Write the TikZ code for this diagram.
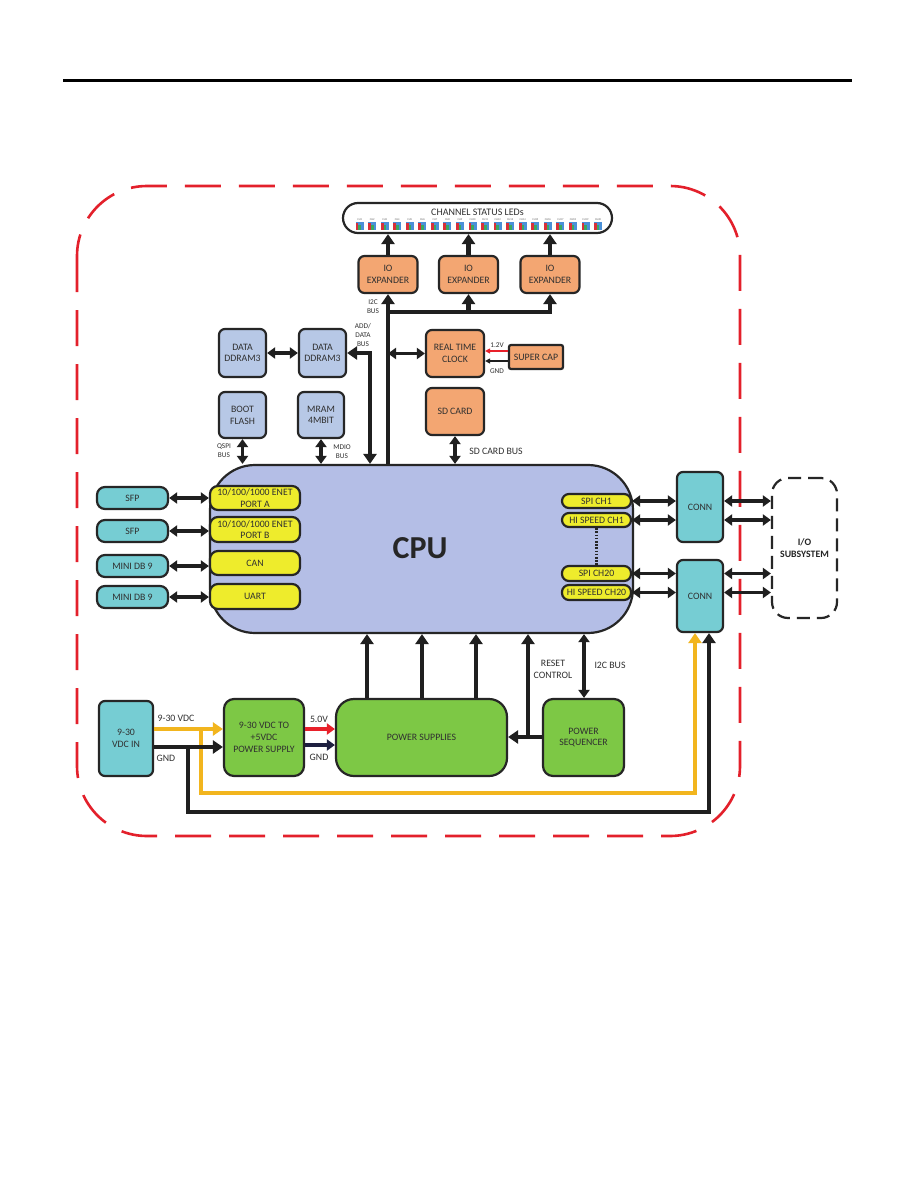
\documentclass[tikz,border=0pt]{standalone}
\usepackage{fontspec}
\setmainfont{Carlito}
\usetikzlibrary{arrows.meta}
\definecolor{cyanc}{HTML}{76CDD3}
\definecolor{orangec}{HTML}{F3A672}
\definecolor{ddrc}{HTML}{B7C8E6}
\definecolor{cpuc}{HTML}{B4BEE6}
\definecolor{yelc}{HTML}{EEEC2C}
\definecolor{greenc}{HTML}{7DC845}
\definecolor{bordred}{HTML}{E3202B}
\definecolor{wirey}{HTML}{F2B51E}
\definecolor{txt}{HTML}{303030}
\definecolor{navy}{HTML}{1E2040}
\definecolor{volt}{HTML}{E8202A}
\definecolor{ledr}{HTML}{D8303A}
\definecolor{ledg}{HTML}{3AA860}
\definecolor{ledb}{HTML}{4A90D8}
\begin{document}
\begin{tikzpicture}[x=1pt,y=-1pt,
 BT/.tip={Triangle[width=13pt,length=10pt]},
 MT/.tip={Triangle[width=11pt,length=8pt]},
 ST/.tip={Triangle[width=5pt,length=5pt]},
 box/.style={draw=black!85,line width=2.2pt,rounded corners=6pt,inner sep=0pt,align=center,text=txt,font=\fontsize{9.8}{11.7}\selectfont},
 cbox/.style={box,fill=cyanc},
 obox/.style={box,fill=orangec},
 dbox/.style={box,fill=ddrc},
 ybox/.style={box,fill=yelc},
 gbox/.style={box,fill=greenc},
 lbl/.style={inner sep=0pt,align=center,text=txt,font=\fontsize{7.3}{9.3}\selectfont},
 mlbl/.style={inner sep=0pt,align=center,text=txt,font=\fontsize{9.8}{11.7}\selectfont},
 wire/.style={line width=4.5pt,draw=black!88},
 dwire/.style={line width=3.8pt,draw=black!88},
 ywire/.style={line width=4.5pt,draw=wirey},
]
\useasboundingbox[fill=white] (0,0) rectangle (918,1188);

% header rule
\draw[line width=3pt] (63,81) -- (852,81);

% red dashed border
\draw[draw=bordred,line width=2.6pt,dash pattern=on 36pt off 18pt,rounded corners=70pt] (77,186) rectangle (740,836);

% LED bar
\node[draw=black!85,line width=2.2pt,fill=white,rounded corners=15pt,minimum width=269pt,minimum height=30pt,inner sep=0pt] (leds) at (477.5,218) {};
\node[text=txt,font=\fontsize{10}{10}\selectfont,inner sep=0pt] (ledtitle) at (477.5,212.5) {CHANNEL STATUS LEDs};
\foreach \i in {1,...,20}{
  \pgfmathsetmacro{\xx}{359.6+(\i-1)*12.55}
  \fill[ledb] (\xx-4,222) rectangle (\xx+4,229.5);
  \fill[ledr] (\xx-4,223) rectangle (\xx-1.2,229.5);
  \fill[ledg] (\xx-1.2,224.5) rectangle (\xx+1.4,229.5);
  \node[text=black!60,font=\fontsize{2.8}{3}\selectfont,inner sep=0pt] at (\xx,219.5) {CH\i};
}

% IO expanders
\node[obox,minimum width=59pt,minimum height=37pt] (io1) at (388,274.5) {IO\\EXPANDER};
\node[obox,minimum width=59pt,minimum height=37pt] (io2) at (468.5,274.5) {IO\\EXPANDER};
\node[obox,minimum width=59pt,minimum height=37pt] (io3) at (550,274.5) {IO\\EXPANDER};

% memory blocks
\node[dbox,minimum width=47pt,minimum height=48pt] (ddr1) at (242.5,353) {DATA\\DDRAM3};
\node[dbox,minimum width=47pt,minimum height=48pt] (ddr2) at (322.5,353) {DATA\\DDRAM3};
\node[dbox,minimum width=47pt,minimum height=46pt] (flash) at (242.5,415) {BOOT\\FLASH};
\node[dbox,minimum width=46pt,minimum height=46pt] (mram) at (321,415) {MRAM\\4MBIT};

% RTC, super cap, SD
\node[obox,minimum width=58pt,minimum height=47pt] (rtc) at (455,353.5) {REAL TIME\\CLOCK};
\node[obox,rounded corners=2pt,minimum width=54pt,minimum height=24pt] (scap) at (536,357) {SUPER CAP};
\node[obox,minimum width=58pt,minimum height=47pt] (sd) at (455,411.5) {SD CARD};

% CPU
\node[box,fill=cpuc,rounded corners=45pt,minimum width=423pt,minimum height=168pt] (cpu) at (421.5,549) {};
\node[text=black!85,font=\bfseries\fontsize{32}{32}\selectfont,inner sep=0pt] (cputxt) at (420,548) {CPU};

% CPU left interfaces
\node[ybox,rounded corners=8pt,minimum width=90pt,minimum height=24pt] (enA) at (255,498) {10/100/1000 ENET\\PORT A};
\node[ybox,rounded corners=8pt,minimum width=90pt,minimum height=25pt] (enB) at (255,529.5) {10/100/1000 ENET\\PORT B};
\node[ybox,rounded corners=8pt,minimum width=90pt,minimum height=24pt] (can) at (255,563) {CAN};
\node[ybox,rounded corners=8pt,minimum width=90pt,minimum height=25pt] (uart) at (255,596.5) {UART};

% CPU right interfaces
\node[ybox,rounded corners=7pt,minimum width=69pt,minimum height=14pt] (spi1) at (596.5,501) {SPI CH1};
\node[ybox,rounded corners=7pt,minimum width=69pt,minimum height=14pt] (hs1) at (596.5,520) {HI SPEED CH1};
\node[ybox,rounded corners=7pt,minimum width=69pt,minimum height=15pt] (spi20) at (596.5,573.5) {SPI CH20};
\node[ybox,rounded corners=7pt,minimum width=69pt,minimum height=15pt] (hs20) at (596.5,592.5) {HI SPEED CH20};
\draw[line width=2.6pt,draw=black!85,dash pattern=on 1.6pt off 1.6pt] (hs1.south) -- (spi20.north);

% left connectors
\node[cbox,rounded corners=8pt,minimum width=71pt,minimum height=22pt] (sfp1) at (132.5,498) {SFP};
\node[cbox,rounded corners=8pt,minimum width=71pt,minimum height=22pt] (sfp2) at (132.5,531) {SFP};
\node[cbox,rounded corners=8pt,minimum width=71pt,minimum height=22pt] (db1) at (132.5,566) {MINI DB 9};
\node[cbox,rounded corners=8pt,minimum width=71pt,minimum height=22pt] (db2) at (132.5,597) {MINI DB 9};

% right connectors
\node[cbox,minimum width=46pt,minimum height=70pt] (conn1) at (700,507) {CONN};
\node[cbox,minimum width=46pt,minimum height=72pt] (conn2) at (700,596) {CONN};
\node[draw=black!85,line width=2.2pt,dash pattern=on 13pt off 7pt,rounded corners=16pt,minimum width=65pt,minimum height=140pt,inner sep=0pt,align=center,text=black!85,font=\bfseries\fontsize{9.8}{11.7}\selectfont] (iosub) at (804.5,548) {I/O\\SUBSYSTEM};

% bottom power blocks
\node[cbox,minimum width=54pt,minimum height=75pt] (vdcin) at (126,738.5) {9-30\\VDC IN};
\node[gbox,rounded corners=10pt,minimum width=80pt,minimum height=77pt] (psu) at (264,737.5) {9-30 VDC TO\\+5VDC\\POWER SUPPLY};
\node[gbox,rounded corners=18pt,minimum width=171pt,minimum height=77pt] (psupp) at (421.5,737.5) {POWER SUPPLIES};
\node[gbox,rounded corners=10pt,minimum width=81pt,minimum height=77pt] (seq) at (583.5,737.5) {POWER\\SEQUENCER};

% helper coordinates
\coordinate (xAD) at (370,0);
\coordinate (ybr) at (0,312);
\coordinate (yV) at (0,729);
\coordinate (yG) at (0,747);
\coordinate (yG2) at (0,745);
\coordinate (xY) at (201,0);
\coordinate (yY) at (0,793);
\coordinate (xYr) at (695,0);
\coordinate (xK) at (188,0);
\coordinate (yK) at (0,812);
\coordinate (xKr) at (709,0);
\coordinate (xP1) at (367,0);
\coordinate (xP2) at (422,0);
\coordinate (xP3) at (476,0);
\coordinate (xR) at (528,0);
\coordinate (yR) at (0,737);
\coordinate (xI) at (584,0);
\coordinate (y12) at (0,351);
\coordinate (ygn) at (0,361);

% top connectors
\draw[wire,-BT] (io1.north) -- (io1.north |- leds.south);
\draw[wire,-BT] (io2.north) -- (io2.north |- leds.south);
\draw[wire,-BT] (io3.north) -- (io3.north |- leds.south);
\draw[wire,-BT] (io1.south |- cpu.north) -- (io1.south);
\draw[wire,-BT] (io1.south |- ybr) -- (io3.south |- ybr) -- (io3.south);
\draw[wire,-BT] (io2.south |- ybr) -- (io2.south);
\draw[wire,BT-BT] (xAD |- cpu.north) -- (xAD |- ddr2.east) -- (ddr2.east);
\draw[dwire,MT-MT] (ddr1.east) -- (ddr2.west);
\draw[dwire,MT-MT] (io1.south |- rtc.west) -- (rtc.west);
\draw[dwire,MT-MT] (flash.south) -- (flash.south |- cpu.north);
\draw[dwire,MT-MT] (mram.south) -- (mram.south |- cpu.north);
\draw[dwire,MT-MT] (sd.south) -- (sd.south |- cpu.north);
\draw[line width=1.8pt,draw=volt,-ST] (scap.west |- y12) -- (rtc.east |- y12);
\draw[line width=1.8pt,draw=black!88,-ST] (scap.west |- ygn) -- (rtc.east |- ygn);

% labels top
\node[lbl] (lI2C) at (373,306.5) {I2C\\BUS};
\node[lbl] (lADD) at (363,335) {ADD/\\DATA\\BUS};
\node[lbl] (lQSPI) at (224,451) {QSPI\\BUS};
\node[lbl] (lMDIO) at (342,451.5) {MDIO\\BUS};
\node[lbl] (l12) at (497,345) {1.2V};
\node[lbl] (lgnd1) at (497,371) {GND};
\node[mlbl] (lsd) at (496,451) {SD CARD BUS};

% left connectors wires
\draw[dwire,MT-MT] (sfp1.east) -- (sfp1.east -| enA.west);
\draw[dwire,MT-MT] (sfp2.east) -- (sfp2.east -| enB.west);
\draw[dwire,MT-MT] (db1.east) -- (db1.east -| can.west);
\draw[dwire,MT-MT] (db2.east) -- (db2.east -| uart.west);

% right wires
\draw[dwire,MT-MT] (spi1.east) -- (spi1.east -| conn1.west);
\draw[dwire,MT-MT] (hs1.east) -- (hs1.east -| conn1.west);
\draw[dwire,MT-MT] (spi20.east) -- (spi20.east -| conn2.west);
\draw[dwire,MT-MT] (hs20.east) -- (hs20.east -| conn2.west);
\draw[dwire,MT-MT] (conn1.east |- spi1.east) -- (spi1.east -| iosub.west);
\draw[dwire,MT-MT] (conn1.east |- hs1.east) -- (hs1.east -| iosub.west);
\draw[dwire,MT-MT] (conn2.east |- spi20.east) -- (spi20.east -| iosub.west);
\draw[dwire,MT-MT] (conn2.east |- hs20.east) -- (hs20.east -| iosub.west);

% bottom wiring
\draw[ywire,-BT] (vdcin.east |- yV) -- (psu.west |- yV);
\draw[ywire,-BT] (xY |- yV) -- (xY |- yY) -- (xYr |- yY) -- (xYr |- conn2.south);
\draw[wire,-BT] (vdcin.east |- yG) -- (psu.west |- yG);
\draw[wire,-BT] (xK |- yG) -- (xK |- yK) -- (xKr |- yK) -- (xKr |- conn2.south);
\draw[line width=4pt,draw=volt,-MT] (psu.east |- yV) -- (psupp.west |- yV);
\draw[line width=4pt,draw=navy,-MT] (psu.east |- yG2) -- (psupp.west |- yG2);
\draw[wire,-BT] (xP1 |- psupp.north) -- (xP1 |- cpu.south);
\draw[wire,-BT] (xP2 |- psupp.north) -- (xP2 |- cpu.south);
\draw[wire,-BT] (xP3 |- psupp.north) -- (xP3 |- cpu.south);
\draw[wire,-BT] (seq.west |- yR) -- (psupp.east |- yR);
\draw[wire,-BT] (xR |- yR) -- (xR |- cpu.south);
\draw[dwire,MT-MT] (xI |- seq.north) -- (xI |- cpu.south);

% bottom labels
\node[mlbl] (l930) at (176,718) {9-30 VDC};
\node[mlbl] (lgnd2) at (166,758) {GND};
\node[mlbl] (l50) at (319,719) {5.0V};
\node[mlbl] (lgnd3) at (319,757) {GND};
\node[mlbl] (lrst) at (553,669) {RESET\\CONTROL};
\node[mlbl] (li2c2) at (610,665) {I2C BUS};
\end{tikzpicture}
\end{document}
